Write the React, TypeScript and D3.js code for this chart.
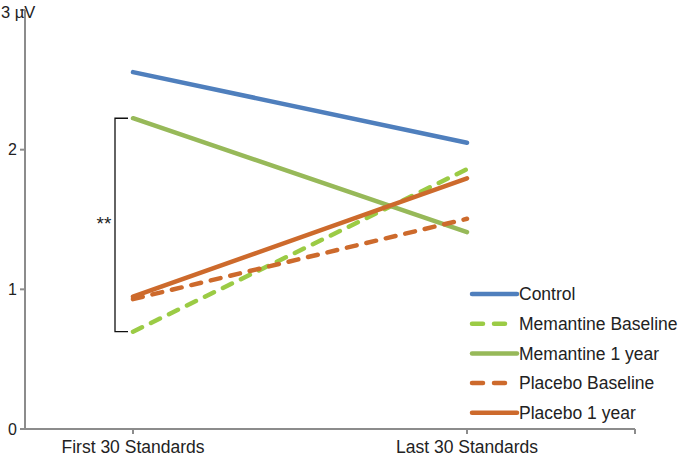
import React from "react";
import * as d3 from "d3";

const categories = ["First 30 Standards", "Last 30 Standards"];
const seriesNames = ["Control", "Memantine Baseline", "Memantine 1 year", "Placebo Baseline", "Placebo 1 year"];
const control = [2.555, 2.05];
const memantineBaseline = [0.697, 1.86];
const memantine1Year = [2.225, 1.41];
const placeboBaseline = [0.93, 1.505];
const placebo1Year = [0.947, 1.795];
const yTicks = [0, 1, 2, 3];

const seriesValues = [control, memantineBaseline, memantine1Year, placeboBaseline, placebo1Year];
const colors = ["#4F7FBD", "#9BCB45", "#97B959", "#CD6A2C", "#CD6A2C"];
const dashed = [false, true, false, true, false];

export default function App() {
  const W = 685, H = 459;
  const axisX = 25;
  const y = d3.scaleLinear().domain([0, 3]).range([429, 10]);
  const x = d3.scalePoint<string>().domain(categories).range([133, 467]);
  const line = d3.line<number>().x((_, i) => x(categories[i])!).y((d) => y(d));
  const font = "'Liberation Sans', Arial, sans-serif";
  const legendX = 470;
  const legendY0 = 294;
  const legendStep = 29.7;
  const bracketTop = y(memantine1Year[0]);
  const bracketBot = y(memantineBaseline[0]);
  return (
    <svg width={W} height={H} style={{ position: "absolute", left: 0, top: 0 }} fontFamily={font}>
      <rect width={W} height={H} fill="#fff" />
      <line x1={axisX} x2={axisX} y1={y(3)} y2={y(0)} stroke="#8c8c8c" strokeWidth={2} />
      <line x1={20} x2={635} y1={y(0)} y2={y(0)} stroke="#8c8c8c" strokeWidth={2} />
      {yTicks.map((t) => (
        <g key={t}>
          <line x1={20} x2={axisX} y1={y(t)} y2={y(t)} stroke="#8c8c8c" strokeWidth={2} />
          {t < 3 && (
            <text x={17} y={y(t)} dy="0.35em" textAnchor="end" fontSize={16} fill="#222">{t}</text>
          )}
        </g>
      ))}
      <text x={1} y={18} fontSize={16.5} fill="#222">3 µV</text>
      {[x(categories[0])!, x(categories[1])!, 635].map((tx, i) => (
        <line key={i} x1={tx} x2={tx} y1={y(0)} y2={y(0) + 5} stroke="#8c8c8c" strokeWidth={2} />
      ))}
      {categories.map((c) => (
        <text key={c} x={x(c)!} y={453} textAnchor="middle" fontSize={17.5} fill="#222">{c}</text>
      ))}
      {seriesValues.map((vals, i) => (
        <path key={i} d={line(vals)!} fill="none" stroke={colors[i]} strokeWidth={4.5}
          strokeLinecap="round" strokeDasharray={dashed[i] ? "10 10" : undefined} />
      ))}
      <path d={`M128,${bracketTop} H115 V${bracketBot} H128`} fill="none" stroke="#111" strokeWidth={1.3} />
      <text x={104} y={(bracketTop + bracketBot) / 2 + 5} textAnchor="middle" fontSize={19} fill="#222">**</text>
      {seriesNames.map((n, i) => {
        const ly = legendY0 + i * legendStep;
        return (
          <g key={n}>
            {dashed[i] ? (
              <>
                <line x1={472} x2={483} y1={ly} y2={ly} stroke={colors[i]} strokeWidth={4.5} strokeLinecap="round" />
                <line x1={494} x2={505} y1={ly} y2={ly} stroke={colors[i]} strokeWidth={4.5} strokeLinecap="round" />
              </>
            ) : (
              <line x1={legendX + 2} x2={517} y1={ly} y2={ly} stroke={colors[i]} strokeWidth={4.5} strokeLinecap="round" />
            )}
            <text x={519} y={ly} dy="0.36em" fontSize={17.5} fill="#222">{n}</text>
          </g>
        );
      })}
    </svg>
  );
}
